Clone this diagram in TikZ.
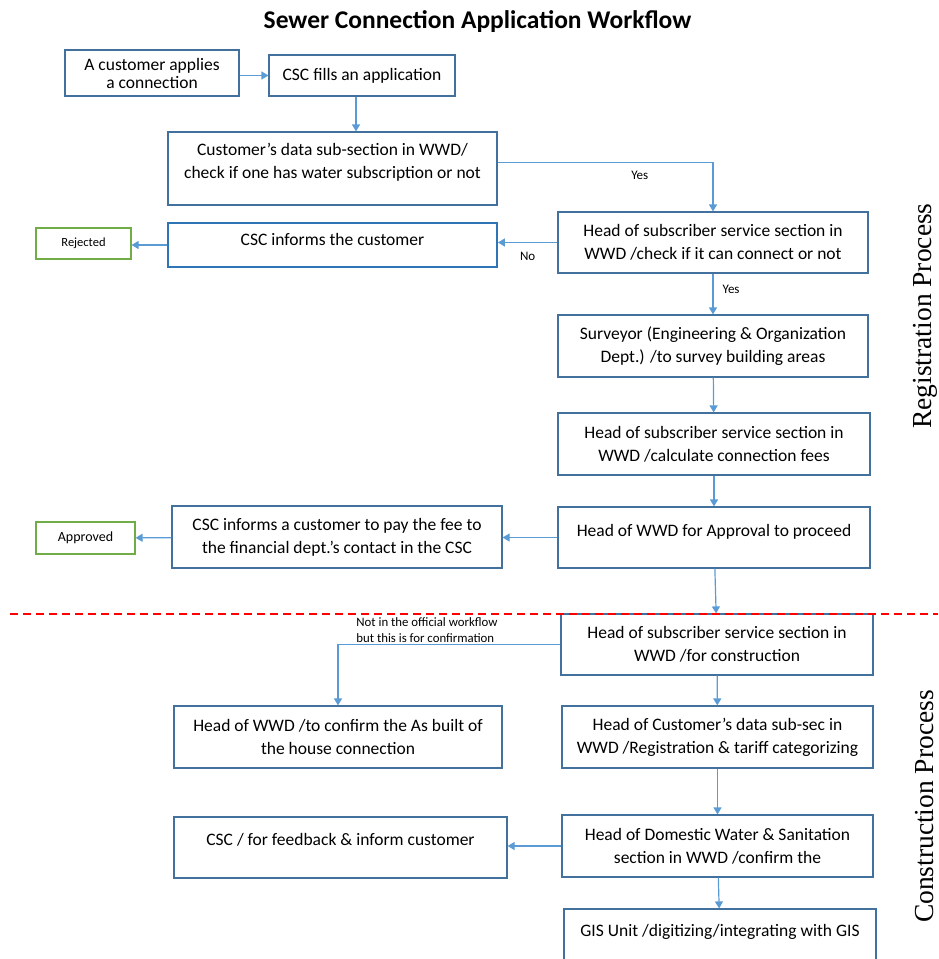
\documentclass[tikz,border=0pt]{standalone}
\usepackage{fontspec}
\setmainfont{Carlito}
\newfontfamily\sidefont{Liberation Serif}
\usetikzlibrary{arrows.meta}

\definecolor{boxblue}{HTML}{41719C}
\definecolor{flowblue}{HTML}{5B9BD5}
\definecolor{brightblue}{HTML}{2E75B6}
\definecolor{okgreen}{HTML}{70AD47}

\tikzset{
	stage/.style={draw=boxblue, line width=1.2pt, align=center, inner sep=2pt, font=\fontsize{17.5}{23}\selectfont},
	outcome/.style={draw=okgreen, line width=1.2pt, inner sep=2pt},
	flow/.style={draw=flowblue, line width=1.2pt, -{Triangle[width=8pt,length=7pt]}},
	tag/.style={font=\fontsize{13}{15}\selectfont, inner sep=1pt},
	note/.style={font=\fontsize{12.8}{16}\selectfont, align=left, inner sep=1pt},
	phase/.style={rotate=90, font=\sidefont\fontsize{27.5}{30}\selectfont},
	divider/.style={draw=red, line width=1.5pt, dash pattern=on 8pt off 5pt},
}

\begin{document}
\begin{tikzpicture}[x=1pt, y=-1pt]
	\useasboundingbox (0,0) rectangle (938,959);
	
	\node[font=\fontsize{25.5}{28}\selectfont\bfseries] (title) at (477.5,22) {Sewer Connection Application Workflow};
	
	% registration part
	\node[stage, minimum width=174pt, minimum height=46pt, font=\fontsize{17.5}{18}\selectfont] (apply) at (152,73) {A customer applies\\a connection};
	\node[stage, minimum width=186pt, minimum height=41pt] (fill) at (362,75.5) {CSC fills an application};
	\node[stage, minimum width=329pt, minimum height=73pt, text depth=15pt] (check) at (332.5,168.5) {Customer's data sub-section in WWD/\\check if one has water subscription or not};
	\node[stage, draw=brightblue, line width=1.8pt, minimum width=329pt, minimum height=44pt, text depth=12pt] (inform) at (332.5,245) {CSC informs the customer};
	\node[outcome, minimum width=95pt, minimum height=31pt, font=\fontsize{12.5}{14}\selectfont] (rejected) at (83.5,243.5) {Rejected};
	\node[stage, minimum width=310pt, minimum height=61pt] (connect) at (713,242.5) {Head of subscriber service section in\\WWD /check if it can connect or not};
	\node[stage, minimum width=310pt, minimum height=62pt] (survey) at (713,346) {Surveyor (Engineering \& Organization\\Dept.) /to survey building areas};
	\node[stage, minimum width=312pt, minimum height=62pt] (fees) at (714,444) {Head of subscriber service section in\\WWD /calculate connection fees};
	\node[stage, minimum width=312pt, minimum height=61pt, text depth=15pt] (approval) at (714,537.5) {Head of WWD for Approval to proceed};
	\node[stage, minimum width=330pt, minimum height=62pt] (pay) at (337,537) {CSC informs a customer to pay the fee to\\the financial dept.'s contact in the CSC};
	\node[outcome, minimum width=99pt, minimum height=32pt, font=\fontsize{14}{16}\selectfont] (approved) at (85.5,538) {Approved};
	
	% construction part
	\node[stage, minimum width=312pt, minimum height=61pt] (construct) at (717,644.5) {Head of subscriber service section in\\WWD /for construction};
	\node[stage, minimum width=328pt, minimum height=62pt] (asbuilt) at (338,737) {Head of WWD /to confirm the As built of\\the house connection};
	\node[stage, minimum width=311pt, minimum height=62pt] (tariff) at (717.5,737) {Head of Customer's data sub-sec in\\WWD /Registration \& tariff categorizing};
	\node[stage, minimum width=311pt, minimum height=62pt] (domestic) at (717.5,846) {Head of Domestic Water \& Sanitation\\section in WWD /confirm the};
	\node[stage, minimum width=333pt, minimum height=61pt, text depth=17pt] (feedback) at (340.5,847.5) {CSC / for feedback \& inform customer};
	\node[stage, minimum width=312pt, minimum height=62pt, text depth=20pt] (gis) at (720,940) {GIS Unit /digitizing/integrating with GIS};
	
	\draw[flow] (apply.east |- fill.west) -- (fill.west);
	\draw[flow] ([xshift=-6pt]fill.south) -- ([xshift=-6pt]fill.south |- check.north);
	\draw[flow] ([yshift=6pt]check.east) -| node[tag, pos=0.33, below=7pt] {Yes} (connect.north);
	\draw[flow] (connect.west) -- node[tag, below=8pt] {No} (connect.west -| inform.east);
	\draw[flow] (inform.west) -- (inform.west -| rejected.east);
	\draw[flow] (connect) -- node[tag, pos=0.38, right=8pt] {Yes} (survey);
	\draw[flow] (survey) -- (fees);
	\draw[flow] (fees) -- (approval);
	\draw[flow] (approval.west) -- (approval.west -| pay.east);
	\draw[flow] (pay) -- (approved);
	\draw[flow] (approval) -- (construct);
	\draw[flow] (construct.west) -| node[note, pos=0.3, above] {Not in the official workflow\\but this is for confirmation} (asbuilt.north);
	\draw[flow] (construct) -- (tariff);
	\draw[flow] (tariff) -- (domestic);
	\draw[flow] (domestic.west) -- (domestic.west -| feedback.east);
	\draw[flow] (domestic) -- (gis);
	
	\coordinate (cut west) at (10,614);
	\coordinate (cut east) at (938,614);
	\draw[divider] (cut west) -- (cut east);
	
	\node[phase] (registration) at (925,316) {Registration Process};
	\node[phase] (construction) at (925,806.5) {Construction Process};
\end{tikzpicture}
\end{document}
